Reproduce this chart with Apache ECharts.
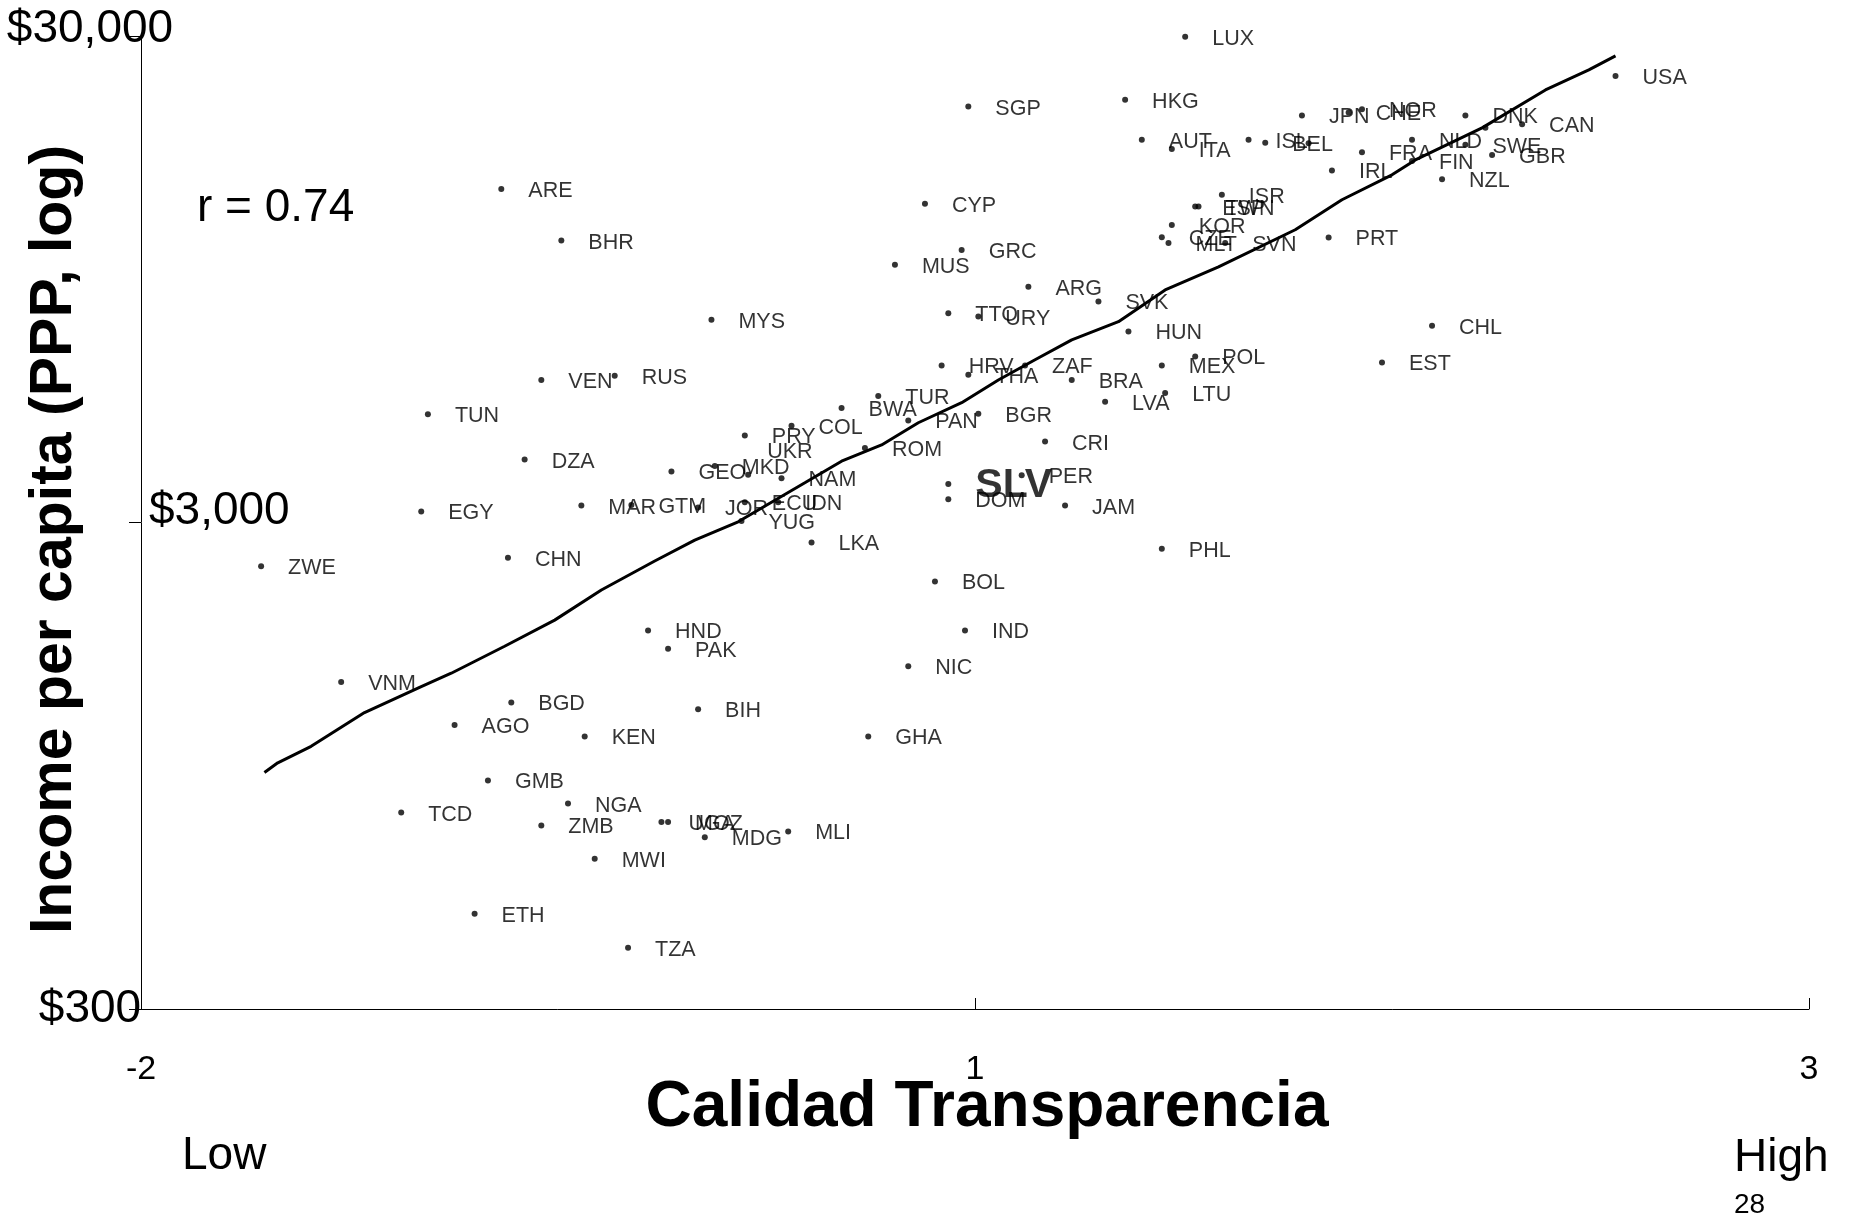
<!DOCTYPE html>
<html><head><meta charset="utf-8">
<script src="https://cdn.jsdelivr.net/npm/echarts@6/dist/echarts.min.js"></script>
<style>html,body{margin:0;padding:0;background:#fff}#c{width:1853px;height:1222px}</style>
</head><body><div id="c"></div>
<script>
const countries = ['LUX','SGP','HKG','AUT','ITA','ISL','BEL','DEU','JPN','CHE','NOR','DNK','AUS','CAN','NLD','SWE','GBR','FIN','FRA','IRL','NZL','USA','PRT','CHL','EST','ISR','ESP','TWN','KOR','CZE','MLT','SVN','CYP','GRC','MUS','ARG','SVK','TTO','URY','MYS','HUN','HRV','THA','ZAF','BRA','MEX','POL','LTU','LVA','TUR','BWA','PAN','BGR','COL','PRY','UKR','ROM','CRI','GEO','MKD','NAM','SLV','DOM','PER','JAM','ARE','BHR','VEN','RUS','TUN','DZA','EGY','MAR','GTM','JOR','ECU','IDN','YUG','ZWE','CHN','LKA','PHL','BOL','HND','IND','PAK','NIC','VNM','BGD','BIH','AGO','KEN','GHA','GMB','NGA','TCD','ZMB','UGA','MOZ','MDG','MLI','MWI','ETH','TZA'];
const transparency = [0.63,-0.02,0.45,0.50,0.59,0.82,0.87,1.00,0.98,1.12,1.16,1.47,1.53,1.64,1.31,1.47,1.55,1.31,1.16,1.07,1.40,1.92,1.06,1.37,1.22,0.74,0.66,0.67,0.59,0.56,0.58,0.75,-0.15,-0.04,-0.24,0.16,0.37,-0.08,0.01,-0.79,0.46,-0.10,-0.02,0.15,0.29,0.56,0.66,0.57,0.39,-0.29,-0.40,-0.20,0.01,-0.55,-0.69,-0.68,-0.33,0.21,-0.91,-0.78,-0.58,-0.08,-0.08,0.14,0.27,-1.42,-1.24,-1.30,-1.08,-1.64,-1.35,-1.66,-1.18,-1.03,-0.83,-0.69,-0.59,-0.70,-2.14,-1.40,-0.49,0.56,-0.12,-0.98,-0.03,-0.92,-0.20,-1.90,-1.39,-0.83,-1.56,-1.17,-0.32,-1.46,-1.22,-1.72,-1.30,-0.94,-0.92,-0.81,-0.56,-1.14,-1.50,-1.04];
const incomePPP = [29900,21480,22180,18350,17580,18350,18110,18060,20590,20880,21220,20590,19440,19760,18350,17920,17090,16610,17310,15870,15230,24840,11560,7610,6400,14150,13380,13380,12270,11580,11260,11260,13560,10900,10160,9160,8540,8080,7950,7830,7410,6310,6040,6310,5890,6310,6580,5540,5310,5460,5160,4860,5020,4740,4530,3760,4270,4400,3820,3920,3700,3600,3350,3750,3250,14550,11390,5890,6010,5010,4040,3160,3250,3260,3220,3300,3300,3020,2440,2540,2730,2650,2270,1800,1800,1650,1520,1410,1280,1240,1150,1090,1090,885,793,760,715,727,727,676,695,611,471,401];
const fitTransparency = [-2.13,-2.09,-1.99,-1.83,-1.66,-1.57,-1.41,-1.26,-1.12,-0.96,-0.84,-0.71,-0.51,-0.40,-0.28,-0.17,-0.04,0.07,0.18,0.29,0.43,0.57,0.73,0.96,1.10,1.25,1.32,1.52,1.71,1.84,1.92];
const fitIncome = [919,962,1040,1220,1380,1470,1670,1890,2180,2500,2760,3010,3620,4010,4330,4810,5290,5890,6480,7120,7760,9020,10060,11990,13820,15550,16690,19420,23240,25550,27300];
const xTickValues = [-2.5, 0, 2.5];
const xTickLabels = ['-2', '1', '3'];
const yTickValues = [300, 3000, 30000];
const yTickLabels = ['$300', '$3,000', '$30,000'];

const FONT = '"Liberation Sans", Arial, sans-serif';
const hiddenLabels = ['DEU', 'AUS'];

function nearestIdx(arr, v, log) {
  let best = 0, bd = Infinity;
  arr.forEach((t, i) => {
    const d = log ? Math.abs(Math.log(t) - Math.log(v)) : Math.abs(t - v);
    if (d < bd) { bd = d; best = i; }
  });
  return best;
}
const yFmt = v => yTickLabels[nearestIdx(yTickValues, v, true)];
const xFmt = v => xTickLabels[nearestIdx(xTickValues, v, false)];

const points = countries.map((c, i) => {
  const item = { name: c, value: [transparency[i], incomePPP[i]] };
  if (hiddenLabels.includes(c)) item.label = { show: false };
  if (c === 'SLV') item.label = { fontSize: 41, fontWeight: 'bold', color: '#000', offset: [0, 2] };
  if (c === 'UKR') item.label = { offset: [-8, -23] };
  return item;
});
const fitLine = fitTransparency.map((x, i) => [x, fitIncome[i]]);

const logAxisBase = { type: 'log', logBase: 10, min: 300, max: 30000, position: 'left', offset: 0, splitLine: { show: false } };
const labelBase = { fontSize: 46, color: '#000', fontFamily: FONT, formatter: yFmt };

const chart = echarts.init(document.getElementById('c'), null, { renderer: 'canvas' });
chart.setOption({
  animation: false,
  backgroundColor: '#fff',
  grid: { left: 141, top: 36, right: 44, bottom: 213, containLabel: false, outerBoundsMode: 'none' },
  xAxis: {
    type: 'value', min: -2.5, max: 2.5, interval: 2.5,
    axisLine: { show: true, onZero: false, lineStyle: { color: '#000', width: 1 } },
    axisTick: { show: true, inside: true, length: 11, lineStyle: { color: '#000' } },
    axisLabel: { margin: 44, fontSize: 34, color: '#000', fontFamily: FONT, formatter: xFmt },
    splitLine: { show: false },
    name: 'Calidad Transparencia', nameLocation: 'middle', nameGap: 67, nameMoveOverlap: false,
    nameTextStyle: { fontSize: 64, fontWeight: 'bold', color: '#000', fontFamily: FONT, padding: [0, 0, 0, 24] }
  },
  yAxis: [Object.assign({}, logAxisBase, {
    axisLine: { show: true, onZero: false, lineStyle: { color: '#000', width: 1 } },
    axisTick: { show: true, length: 12, customValues: yTickValues, lineStyle: { color: '#000' } },
    axisLabel: Object.assign({}, labelBase, { customValues: [yTickValues[0]], align: 'center', margin: 51, verticalAlign: 'middle' }),
    name: 'Income per capita (PPP, log)', nameLocation: 'middle', nameGap: 57, nameRotate: 90, nameMoveOverlap: false,
    nameTextStyle: { fontSize: 59, fontWeight: 'bold', color: '#000', fontFamily: FONT, padding: [0, 34, 0, 0] }
  }), Object.assign({}, logAxisBase, {
    axisLine: { show: false, onZero: false }, axisTick: { show: false },
    axisLabel: Object.assign({}, labelBase, { inside: true, customValues: [yTickValues[1]], align: 'left', margin: 8, verticalAlign: 'bottom', lineHeight: 23 })
  }), Object.assign({}, logAxisBase, {
    axisLine: { show: false, onZero: false }, axisTick: { show: false },
    axisLabel: Object.assign({}, labelBase, { customValues: [yTickValues[2]], align: 'center', margin: 51, verticalAlign: 'bottom', lineHeight: 14 })
  })],
  series: [{
    type: 'scatter', yAxisIndex: 0, data: points,
    symbol: 'circle', symbolSize: 6,
    itemStyle: { color: '#000' },
    label: { show: true, position: 'right', distance: 24, offset: [0, 2], formatter: '{b}',
      fontSize: 21.5, color: '#000', fontFamily: FONT },
    z: 3
  }, {
    type: 'line', yAxisIndex: 0, data: fitLine, showSymbol: false, smooth: false,
    lineStyle: { color: '#000', width: 3 }, z: 4
  }],
  graphic: [
    { type: 'text', x: 197, y: 208, style: { text: 'r = 0.74', fontSize: 46, fontFamily: FONT, fill: '#000', align: 'left', verticalAlign: 'middle' } },
    { type: 'text', x: 182, y: 1156, style: { text: 'Low', fontSize: 46, fontFamily: FONT, fill: '#000', align: 'left', verticalAlign: 'middle' } },
    { type: 'text', x: 1734, y: 1158, style: { text: 'High', fontSize: 46, fontFamily: FONT, fill: '#000', align: 'left', verticalAlign: 'middle' } },
    { type: 'text', x: 1734, y: 1205, style: { text: '28', fontSize: 28, fontFamily: FONT, fill: '#000', align: 'left', verticalAlign: 'middle' } }
  ]
});
</script>
</body></html>
